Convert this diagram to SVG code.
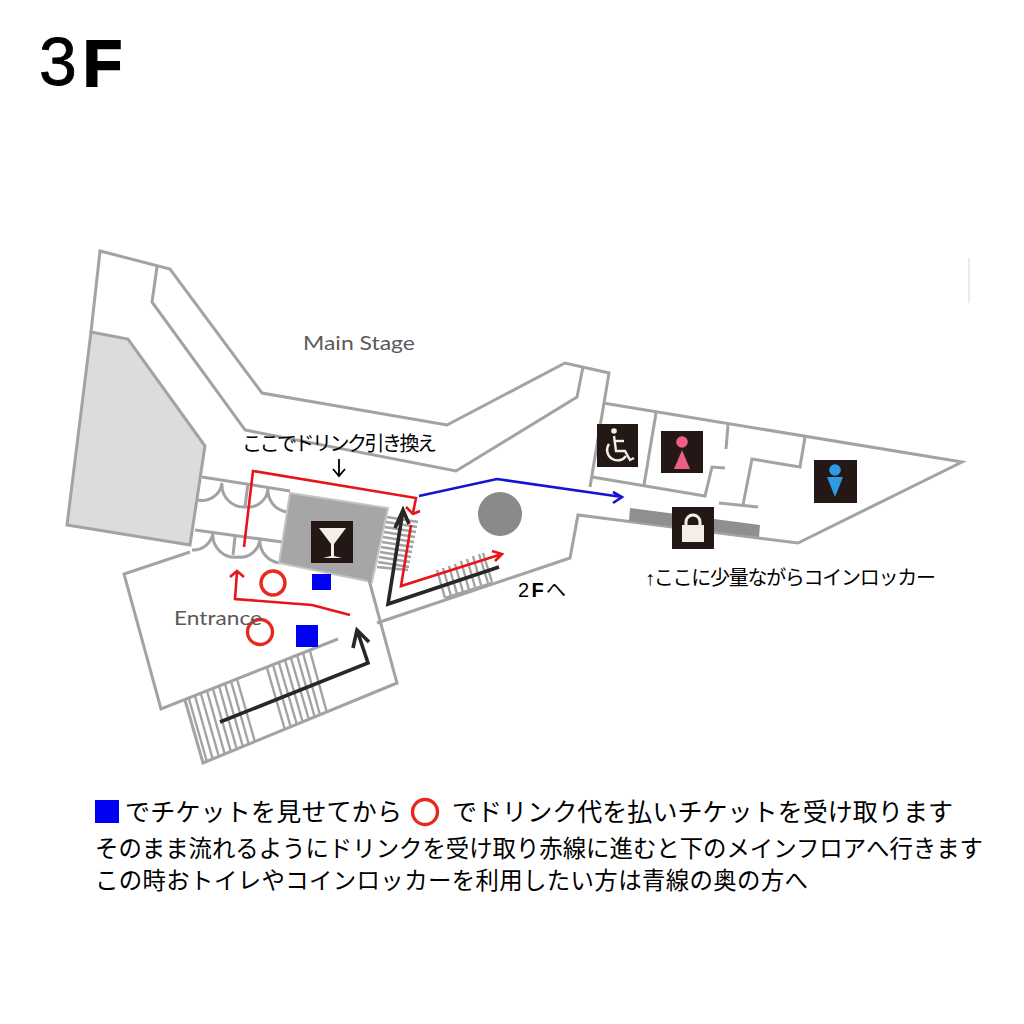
<svg xmlns="http://www.w3.org/2000/svg" width="1024" height="1024" viewBox="0 0 1024 1024">
<style>
.w{fill:none;stroke:#a3a3a3;stroke-width:3;stroke-linejoin:miter}
.t{fill:none;stroke:#a3a3a3;stroke-width:2.4}
.jp{font-family:"Liberation Sans","Noto Sans CJK JP",sans-serif;fill:#000}
.lb{font-family:"Lato","Liberation Sans",sans-serif;fill:#5a5a5a;font-size:20px}
.icon{fill:#231815}
.r{fill:none;stroke:#e8141c;stroke-width:2.6;stroke-linejoin:miter}
.b{fill:none;stroke:#1414d2;stroke-width:2.6}
.k{fill:none;stroke:#2a2626;stroke-width:3.6}
.c{fill:none;stroke:#e8291f;stroke-width:3.4}
.sq{fill:#0000f5}
</style>
<rect width="1024" height="1024" fill="#fff"/>
<g id="title"><text x="39" y="85" class="jp" font-size="68" stroke="#000" stroke-width="0.8" style="font-family:'Liberation Sans',sans-serif">3</text><text x="83" y="86" class="jp" font-size="64" font-weight="bold" stroke="#000" stroke-width="2" style="font-family:'Liberation Sans',sans-serif">F</text></g>
<line x1="969" y1="258" x2="969" y2="303" stroke="#dcdcdc" stroke-width="1.2"/>
<g id="plan">
<polygon points="91,332 128,339 205,446 190,545 67,525" fill="#dcdcdc" stroke="#a3a3a3" stroke-width="3"/>
<path class="w" d="M91,332 L100,251 L170,269 L262,393 L447,425 L565,363 L609,373 L590,487"/>
<path class="w" d="M157,267 L152,302 L245,430 L456,471 L577,397 L583,367"/>
<path class="w" d="M603,403 L962,462 L798,543 L578,515 L570,558 L377,623"/>
<path class="w" d="M592,477 L705,496 L712,467 L725,468"/>
<path class="w" d="M656,413 L644,485"/>
<path class="w" d="M728,425 L726,449"/>
<path class="w" d="M805,437 L800,467 L752,459 L743,505"/>
<path class="w" d="M719,503 L758,507"/>
<polygon points="630,508 760,525 759,537 629,521" fill="#8f8f8f"/>
<path class="w" d="M202,477 L290,491 M195,530 L282,542"/>
<path class="w" d="M198,500 A20,20 0 0 0 222,483 A22,22 0 0 0 245,507 A20,20 0 0 0 268,488 A22,22 0 0 0 288,512 M248,483 L245,507"/>
<path class="w" d="M192,550 A20,20 0 0 0 213,533 A22,22 0 0 0 238,557 A20,20 0 0 0 260,540 A22,22 0 0 0 280,563 M235,537 L233,555"/>
<polygon points="290,493 388,508 372,582 279,563" fill="#a6a6a6" stroke="#c4c4c4" stroke-width="2"/>
<path class="w" d="M190,552 L124,574 L161,709 L338,639"/>
<path class="w" d="M369,580 L397,683 L203,763 L185,700"/>
<path class="t" d="M189,699 L207,762 M195,696 L213,760 M201,694 L219,757 M207,691 L225,755 M213,689 L231,752 M219,686 L237,750 M225,684 L243,747 M231,681 L249,745 M237,679 L255,742"/>
<path class="t" d="M267,668 L285,730 M273,665 L291,728 M279,663 L297,725 M285,660 L303,723 M291,658 L309,720 M297,655 L315,718 M303,653 L320,715 M310,651 L327,713"/>
<path class="t" d="M387,517 L418,522 M386,522 L417,527 M385,527 L416,532 M384,532 L415,537 M383,537 L414,542 M382,542 L413,547 M381,547 L412,552 M380,552 L411,557 M379,557 L410,562 M378,562 L409,567 M377,567 L408,570"/>
<path class="t" d="M437,570 L445,598 M443,568 L451,596 M449,566 L457,594 M455,564 L463,592 M461,561 L469,590 M467,559 L475,587 M473,556 L481,585 M479,554 L488,583 M483,553 L492,582"/>
<path class="t" d="M445,598 L492,583"/>
<circle cx="500" cy="514" r="22" fill="#8a8a8a"/>
</g>
<g id="bar-icon"><rect class="icon" x="311" y="521" width="42" height="42"/><path d="M319,528 H346 L334,544 V556 L342,558 H323 L331,556 V544 Z" fill="#f3efe6"/></g>
<g id="wheelchair-icon"><rect class="icon" x="597" y="424" width="41" height="43"/><g fill="none" stroke="#f3efe6" stroke-width="2.4"><circle cx="614" cy="431" r="2.8" fill="#f3efe6" stroke="none"/><path d="M614,436 L616,451 H625 L630,460 L634,458"/><path d="M615,441 H624"/><path d="M609,444 A9,9 0 1 0 626,456"/></g></g>
<g id="female-icon"><rect class="icon" x="661" y="431" width="42" height="42"/><circle cx="682" cy="442" r="5.8" fill="#ef5f82"/><polygon points="682,450 690,469 674,469" fill="#ef5f82"/></g>
<g id="male-icon"><rect class="icon" x="814" y="460" width="43" height="43"/><circle cx="835" cy="470" r="5.8" fill="#2e9be6"/><polygon points="827,477 843,477 835,497" fill="#2e9be6"/></g>
<g id="locker-icon"><rect class="icon" x="672" y="507" width="42" height="42"/><rect x="682" y="525" width="22" height="17" fill="#f3efe6"/><path d="M686,526 V522 A7,7 0 0 1 700,522 V526" fill="none" stroke="#f3efe6" stroke-width="3"/></g>
<g id="connectors">
<path class="k" d="M220,722 L368,663 L357,630 M353,648 L357,630 L369,642"/>
<path class="k" d="M499,567 L388,604 L403,510 M395,528 L403,510 L409,524"/>
<path class="r" d="M350,615 L312,605 L235,599 L237,572 M230,577 L237,571 L244,577"/>
<path class="r" d="M244,547 L253,471 L416,498 L413,513 M406,507 L413,514 L420,511"/>
<path class="r" d="M411,525 L401,586 L502,554 M492,551 L502,554 L495,561"/>
<path class="b" d="M419,496 L497,479 L622,497 M613,492 L622,497 L613,503"/>
<path d="M339,459 V476 M333,469 L339,476 L345,469" fill="none" stroke="#000" stroke-width="1.8"/>
</g>
<g id="markers">
<circle class="c" cx="273" cy="583" r="12"/><circle class="c" cx="260" cy="632" r="12.5"/>
<rect class="sq" x="312" y="574" width="19" height="16"/><rect class="sq" x="296" y="625" width="22" height="22"/>
</g>
<g id="labels">
<text class="lb" x="303" y="350" textLength="112" lengthAdjust="spacingAndGlyphs">Main Stage</text>
<text class="lb" x="174" y="625" textLength="88" lengthAdjust="spacingAndGlyphs">Entrance</text>
<text class="jp" x="242" y="451" font-size="20" textLength="195">ここでドリンク引き換え</text>
<text class="jp" x="645" y="585" font-size="20" textLength="291">↑ここに少量ながらコインロッカー</text>
<text class="jp" x="518" y="597" font-size="20" textLength="48">2<tspan font-weight="bold">F</tspan>へ</text>
</g>
<g id="legend">
<rect class="sq" x="95" y="800" width="24" height="23"/>
<circle class="c" cx="425" cy="812" r="12.5"/>
<text class="jp" x="125" y="821" font-size="25" textLength="277">でチケットを見せてから</text>
<text class="jp" x="452" y="821" font-size="25" textLength="501">でドリンク代を払いチケットを受け取ります</text>
<text class="jp" x="95" y="857" font-size="23.4" textLength="888">そのまま流れるようにドリンクを受け取り赤線に進むと下のメインフロアへ行きます</text>
<text class="jp" x="95" y="889" font-size="23.4" textLength="713">この時おトイレやコインロッカーを利用したい方は青線の奥の方へ</text>
</g>
</svg>
